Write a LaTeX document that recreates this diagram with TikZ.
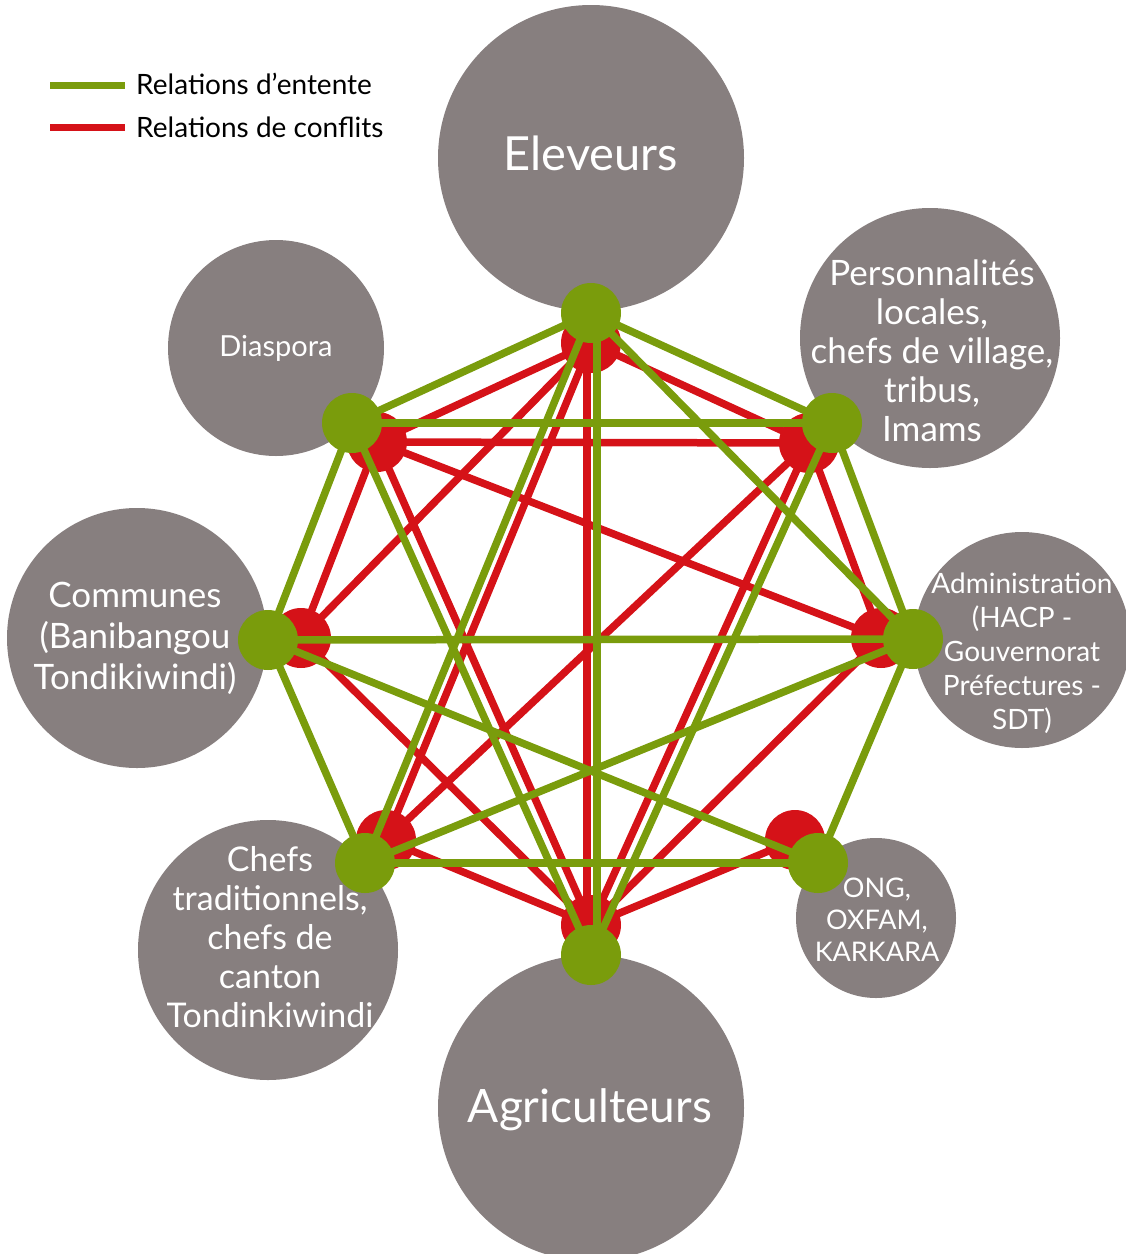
\documentclass[tikz,border=0pt]{standalone}
\usepackage{fontspec}
\setmainfont{Lato}
\definecolor{grisacteur}{RGB}{135,127,127}
\definecolor{vertentente}{RGB}{122,156,12}
\definecolor{rougeconflit}{RGB}{213,18,24}

\begin{document}
\begin{tikzpicture}[x=1pt,y=-1pt,
  acteur/.style={circle,fill=grisacteur,inner sep=0pt},
  nom/.style={text=white,align=center,inner sep=0pt},
  rdot/.style={circle,fill=rougeconflit,minimum size=60pt,inner sep=0pt},
  gdot/.style={circle,fill=vertentente,minimum size=60pt,inner sep=0pt},
  ent/.style={draw=vertentente,line width=7.5pt},
  con/.style={draw=rougeconflit,line width=7.5pt}]
\useasboundingbox (0,0) rectangle (1126,1254);

% acteurs
\node[acteur,minimum size=306pt] (eleveurs) at (591,158) {};
\node[acteur,minimum size=260pt] (perso) at (930,338) {};
\node[acteur,minimum size=216pt] (admin) at (1022,640) {};
\node[acteur,minimum size=160pt] (ong) at (876,918) {};
\node[acteur,minimum size=306pt] (agri) at (591,1108) {};
\node[acteur,minimum size=260pt] (chefs) at (268,950) {};
\node[acteur,minimum size=260pt] (communes) at (137,638) {};
\node[acteur,minimum size=216pt] (diaspora) at (276,348) {};

\node[nom,font=\fontsize{47}{56}\selectfont] (eleveursT) at (591,153) {Eleveurs};
\node[nom,font=\fontsize{35}{39}\selectfont] (persoT) at (932,351)
  {Personnalités\\locales,\\chefs de village,\\tribus,\\Imams};
\node[nom,font=\fontsize{28}{34}\selectfont] (adminT) at (1022,653)
  {Administration\\(HACP -\\Gouvernorat\\Préfectures -\\SDT)};
\node[nom,font=\fontsize{27}{32}\selectfont] (ongT) at (877,920) {ONG,\\OXFAM,\\KARKARA};
\node[nom,font=\fontsize{46}{56}\selectfont] (agriT) at (590,1110) {Agriculteurs};
\node[nom,font=\fontsize{34}{39}\selectfont] (chefsT) at (270,937)
  {Chefs\\traditionnels,\\chefs de\\canton\\Tondinkiwindi};
\node[nom,font=\fontsize{35}{41}\selectfont] (communesT) at (135,638)
  {Communes\\(Banibangou\\Tondikiwindi)};
\node[nom,font=\fontsize{29}{34}\selectfont] (diasporaT) at (276,348) {Diaspora};

% points de conflit
\node[rdot] (eleR) at (591,343) {};
\node[rdot] (perR) at (809,443) {};
\node[rdot] (admR) at (881,638) {};
\node[rdot] (ongR) at (795,840) {};
\node[rdot] (agrR) at (591,925) {};
\node[rdot] (cheR) at (386,840) {};
\node[rdot] (comR) at (301,638) {};
\node[rdot] (diaR) at (377,442) {};

% relations de conflits
\draw[con] (eleR.center) -- (diaR.center);
\draw[con] (eleR.center) -- (perR.center);
\draw[con] ([xshift=-4pt]eleR.center) -- ([xshift=-4pt]agrR.center);
\draw[con] (eleR.center) -- (cheR.center);
\draw[con] (eleR.center) -- (comR.center);
\draw[con] (diaR.center) -- (perR.center);
\draw[con] (diaR.center) -- (admR.center);
\draw[con] (diaR.center) -- (agrR.center);
\draw[con] (diaR.center) -- (comR.center);
\draw[con] (perR.center) -- (cheR.center);
\draw[con] (perR.center) -- (agrR.center);
\draw[con] (perR.center) -- (admR.center);
\draw[con] (admR.center) -- (agrR.center);
\draw[con] (cheR.center) -- (agrR.center);
\draw[con] (comR.center) -- (agrR.center);
\draw[con] (ongR.center) -- (agrR.center);

% points d'entente
\node[gdot] (eleG) at (591,313) {};
\node[gdot] (perG) at (832,423) {};
\node[gdot] (admG) at (913,639) {};
\node[gdot] (ongG) at (818,863) {};
\node[gdot] (agrG) at (591,955) {};
\node[gdot] (cheG) at (365,863) {};
\node[gdot] (comG) at (268,640) {};
\node[gdot] (diaG) at (352,423) {};

% relations d'entente
\draw[ent] (eleG.center) -- (diaG.center);
\draw[ent] (eleG.center) -- (perG.center);
\draw[ent] (eleG.center) -- (cheG.center);
\draw[ent] ([xshift=6pt]eleG.center) -- ([xshift=6pt]agrG.center);
\draw[ent] (eleG.center) -- (admG.center);
\draw[ent] (diaG.center) -- (perG.center);
\draw[ent] (diaG.center) -- (comG.center);
\draw[ent] (diaG.center) -- (agrG.center);
\draw[ent] (perG.center) -- (admG.center);
\draw[ent] (perG.center) -- (agrG.center);
\draw[ent] (comG.center) -- (admG.center);
\draw[ent] (comG.center) -- (cheG.center);
\draw[ent] (comG.center) -- (ongG.center);
\draw[ent] (cheG.center) -- (admG.center);
\draw[ent] (cheG.center) -- (ongG.center);
\draw[ent] (admG.center) -- (ongG.center);

% legende
\coordinate (legEa) at (50,85);
\coordinate (legEb) at (125,85);
\coordinate (legCa) at (50,127);
\coordinate (legCb) at (125,127);
\draw[ent,line width=7pt] (legEa) -- (legEb);
\draw[con,line width=7pt] (legCa) -- (legCb);
\node[anchor=west,inner sep=0pt,font=\fontsize{28}{32}\selectfont] (legE) at (136,84) {Relations d’entente};
\node[anchor=west,inner sep=0pt,font=\fontsize{28}{32}\selectfont] (legC) at (136,127) {Relations de conflits};
\end{tikzpicture}
\end{document}
